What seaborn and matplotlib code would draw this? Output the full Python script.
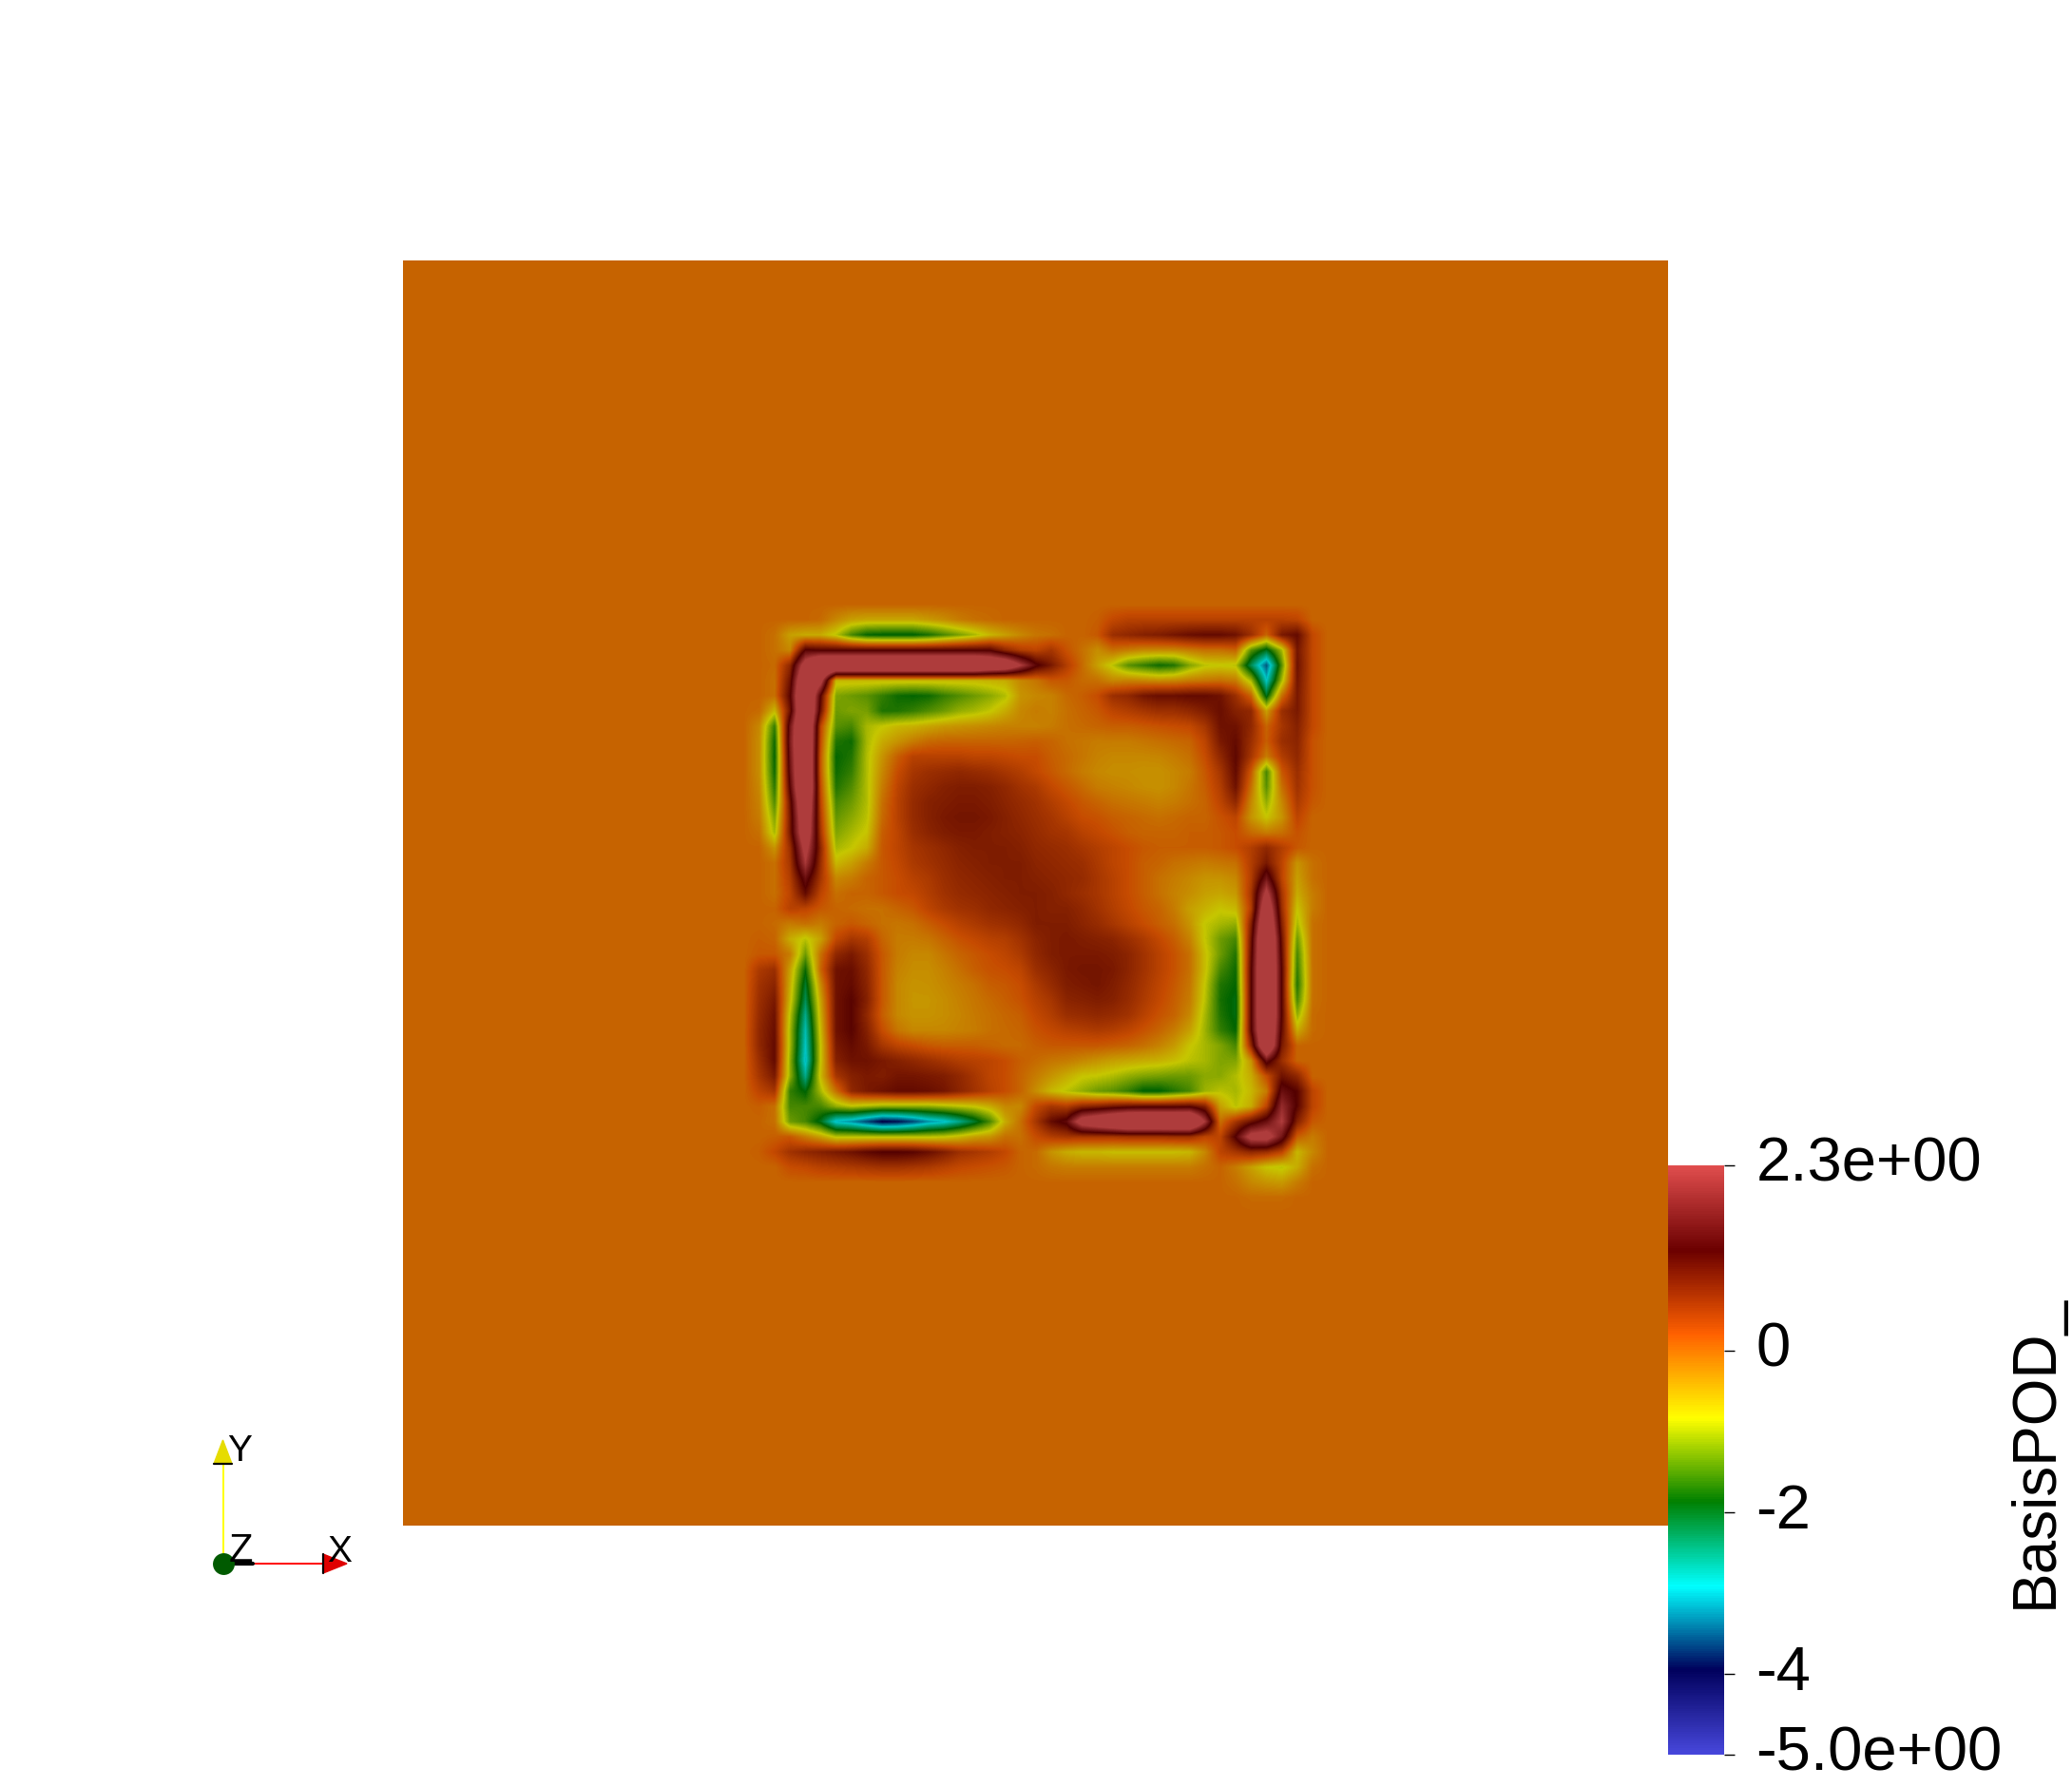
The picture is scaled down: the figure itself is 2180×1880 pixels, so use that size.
import numpy as np
import matplotlib
matplotlib.use("Agg")
import matplotlib.pyplot as plt
import seaborn as sns
from matplotlib.colors import LinearSegmentedColormap, Normalize
from matplotlib.cm import ScalarMappable
from matplotlib.transforms import ScaledTranslation

# colour table of the field
cmap_stops = [0.0, 0.143, 0.285, 0.429, 0.571, 0.714, 0.857, 1.0]
cmap_rgb = [(0.278, 0.278, 0.859), (0, 0, 0.361), (0, 1, 1), (0, 0.502, 0),
            (1, 1, 0), (1, 0.38, 0), (0.42, 0, 0), (0.878, 0.302, 0.302)]
surface_light = 0.78

vmin, vmax = -5.0, 2.3
tick_values = [2.3, 0, -2, -4, -5]
tick_labels = ["2.3e+00", "0", "-2", "-4", "-5.0e+00"]
bar_title = "BasisPOD_"

# field around the central ring, row by row (top to bottom)
basis_pod = [
    [0] * 37,
    [0, 0, 0, 0, -.05, -.3, -.5, -.55, -.55, -.55, -.55, -.45, -.35, -.2, -.1, -.05, 0, 0, 0, 0, 0, 0, .05, .25, .35, .35, .35, .35, .35, .35, .35, .35, .35, .35, .35, .3, 0],
    [0, -.1, -.5, -.6, -.6, -.9, -1.5, -1.85, -1.9, -1.9, -1.9, -1.75, -1.5, -1.25, -1.0, -.7, -.5, -.3, -.15, -.1, 0, 0, .1, .6, .7, .8, .85, .95, 1.05, 1.1, 1.1, 1.0, .6, 0, .9, 1.1, .25],
    [0, -.1, -.3, 1.3, 1.2, 1.2, 1.2, 1.2, 1.2, 1.2, 1.2, 1.2, 1.2, 1.2, 1.2, 1.2, .7, .4, .3, .5, .15, -.1, -.35, -.1, -.2, -.3, -.3, -.3, -.2, -.1, -.1, 0, -1.4, -2.0, -1.0, .95, .25],
    [0, -.05, .7, 2.8, 4, 4, 4, 4, 4, 4, 4, 4, 4, 4, 4, 3.6, 3.3, 2.3, 1.35, .9, .4, -.05, -.5, -.9, -1.4, -1.6, -1.8, -1.7, -1.2, -.9, -.85, -.9, -2.3, -3.5, -1.4, 1.0, .25],
    [0, -.1, 1.0, 3.6, 2.6, -.7, -.7, -.7, -.7, -.7, -.7, -.7, -.7, -.7, -.7, -.65, -.6, -.3, -.15, .1, .1, -.05, -.1, -.3, -.25, -.3, -.35, -.3, -.2, -.15, -.1, -.2, -1.0, -2.9, -1.0, .95, .25],
    [0, -.1, 1.2, 4, 1.2, -1.2, -1.3, -1.4, -1.6, -1.8, -1.85, -1.8, -1.6, -1.45, -1.3, -1.15, -.95, -.4, -.3, -.25, -.05, .05, .2, .6, .7, .95, 1.05, 1.05, 1.1, 1.1, 1.0, .6, 0, -2.0, -.1, .9, .25],
    [-.05, -.7, 1.0, 4, 1.0, -1.3, -1.2, -1.25, -1.7, -1.7, -1.6, -1.45, -1.3, -1.1, -1.0, -.85, -.6, -.3, -.2, -.25, -.1, 0, .1, .3, .4, .5, .6, .6, .7, .85, 1.05, .8, .7, -.5, .6, .9, .25],
    [-.3, -1.6, 1.6, 4, .3, -1.4, -1.5, -1.0, -.85, -.7, -.65, -.55, -.45, -.4, -.35, -.3, -.25, -.25, -.25, -.2, -.1, -.05, 0, .05, .05, .1, .15, .2, .25, .5, 1.0, 1.0, .7, 0, .5, .8, .25],
    [-.35, -1.8, 1.7, 4, .2, -1.7, -1.8, -1.0, -.6, -.4, -.2, -.05, 0, 0, 0, 0, 0, .02, .05, 0, -.1, -.15, -.2, -.2, -.2, -.15, -.1, -.05, 0, .3, .9, 1.1, .6, .05, .6, .75, .15],
    [-.35, -1.85, 1.6, 4, .1, -1.85, -1.7, -.95, -.4, .05, .35, .35, .35, .35, .3, .3, .25, .2, .2, .05, -.05, -.15, -.25, -.3, -.3, -.3, -.28, -.2, -.1, .2, .7, 1.15, .5, -.2, .4, .7, .15],
    [-.35, -1.8, 1.5, 4, .1, -1.8, -1.6, -.95, -.3, .2, .5, .6, .65, .7, .65, .6, .5, .4, .25, .1, -.05, -.2, -.3, -.35, -.35, -.38, -.38, -.3, -.2, .1, .5, 1.1, .1, -1.5, .1, .6, .15],
    [-.3, -1.65, 1.3, 4, .2, -1.7, -1.45, -.95, -.2, .3, .6, .7, .8, .85, .85, .8, .7, .55, .45, .25, .1, -.05, -.2, -.25, -.3, -.35, -.38, -.3, -.15, .05, .4, 1.0, -.1, -1.4, -.1, .55, .15],
    [-.25, -1.45, 1.0, 3.6, .3, -1.5, -1.3, -.95, -.1, .35, .65, .8, .85, .9, .9, .85, .75, .65, .55, .4, .25, .1, 0, -.1, -.15, -.2, -.25, -.2, -.1, 0, .3, .7, -.3, -1.1, -.3, .45, .1],
    [-.2, -1.2, .9, 3.3, .4, -1.35, -1.15, -.9, -.05, .35, .65, .8, .9, .95, .95, .9, .8, .7, .6, .5, .35, .2, .15, .05, 0, -.05, -.1, -.05, 0, 0, .15, .3, -.4, -.8, -.4, .3, 0],
    [-.1, -1.0, .9, 3.1, .5, -1.2, -1.0, -.8, .05, .3, .6, .75, .85, .9, .9, .85, .8, .75, .65, .55, .5, .35, .25, .15, .05, 0, 0, 0, .05, .05, .1, .2, -.05, -.2, -.1, .15, 0],
    [0, -.4, .6, 2.6, .7, -1.0, -.85, -.6, .1, .3, .5, .6, .7, .8, .85, .85, .85, .8, .7, .65, .6, .5, .4, .3, .2, .1, .05, .05, .05, .05, .1, .2, .4, .7, .4, .1, 0],
    [0, -.1, .5, 2.2, .6, -.7, -.5, -.2, .1, .25, .45, .55, .65, .75, .8, .85, .85, .85, .75, .7, .65, .6, .45, .3, .2, .05, 0, -.1, -.15, -.2, -.15, -.1, .4, .9, .3, -.4, -.1],
    [0, -.1, .4, 1.5, .5, -.3, -.2, 0, .1, .2, .35, .45, .6, .7, .75, .8, .85, .85, .8, .75, .7, .65, .5, .35, .2, .05, -.1, -.2, -.3, -.4, -.4, -.3, .4, 1.6, .3, -.5, -.1],
    [0, -.1, .3, 1.1, .3, -.1, 0, 0, .1, .2, .25, .4, .55, .65, .7, .75, .8, .85, .85, .8, .7, .6, .5, .35, .2, .05, -.1, -.25, -.35, -.5, -.55, -.45, .5, 2.5, .5, -.6, -.2],
    [0, 0, .35, .3, .1, 0, -.05, -.1, -.1, 0, .1, .3, .45, .55, .6, .7, .75, .8, .85, .8, .8, .7, .55, .4, .25, .1, 0, -.2, -.5, -.65, -.8, -.7, .4, 3.2, .6, -.8, -.2],
    [0, -.05, -.2, -.1, -.2, 0, .1, 0, -.1, -.15, -.1, .05, .2, .35, .45, .55, .6, .7, .85, .85, .85, .75, .65, .5, .35, .2, .05, -.1, -.4, -.85, -1.0, -1.1, .8, 3.6, .8, -1.0, -.1],
    [.05, 0, -.6, -.9, -.5, .25, .5, .4, 0, -.2, -.2, -.15, 0, .15, .25, .35, .4, .55, .75, .85, .9, .85, .8, .75, .6, .45, .25, .05, -.25, -.85, -1.3, -1.5, 1.0, 4, 1.0, -1.3, -.1],
    [.1, .1, -.2, -1.3, -.1, .7, .9, .6, .1, -.2, -.3, -.3, -.15, 0, .1, .2, .3, .45, .7, .85, .9, .9, .9, .85, .75, .55, .35, .15, -.1, -.75, -1.3, -1.7, 1.1, 4, 1.1, -1.5, -.1],
    [.45, .6, -.5, -1.8, 0, 1.0, 1.05, .7, .1, -.25, -.35, -.35, -.25, -.1, .05, .15, .2, .3, .6, .75, .9, .95, .95, .9, .75, .55, .35, .15, -.1, -.75, -1.5, -1.8, 1.2, 4, 1.2, -1.6, -.1],
    [.55, .75, -.6, -2.1, -.3, 1.0, 1.1, .75, .1, -.3, -.4, -.38, -.3, -.2, -.1, .05, .1, .2, .45, .65, .85, .9, .95, .85, .7, .5, .3, .1, -.15, -.85, -1.7, -1.85, 1.2, 4, 1.2, -1.7, -.1],
    [.6, .9, -.7, -2.3, -.5, 1.0, 1.2, .8, .1, -.3, -.42, -.42, -.35, -.25, -.15, -.05, .05, .15, .35, .5, .75, .8, .85, .8, .65, .45, .25, .05, -.2, -.9, -1.75, -1.95, 1.2, 4, 1.2, -1.5, -.1],
    [.65, 1.0, -.9, -2.6, -.6, 1.0, 1.2, .7, .05, -.3, -.4, -.4, -.35, -.28, -.18, -.1, -.02, .05, .25, .4, .6, .65, .7, .65, .55, .35, .15, 0, -.3, -1.0, -1.7, -1.95, 1.2, 4, 1.2, -1.1, -.05],
    [.7, 1.05, -1.0, -2.8, -.7, 1.0, 1.2, .8, .2, -.15, -.3, -.3, -.3, -.25, -.2, -.1, -.05, 0, .15, .25, .35, .4, .45, .4, .3, .15, 0, -.2, -.5, -1.05, -1.6, -1.85, 1.2, 3.8, 1.1, -.6, -.05],
    [.7, 1.1, -1.0, -2.9, -.8, .9, 1.1, .9, .5, .3, .2, .1, .05, .05, .05, 0, -.05, -.05, .05, .1, .1, .1, .1, .05, 0, -.1, -.25, -.45, -.8, -1.0, -1.2, -1.5, .7, 3.6, .9, 0, 0],
    [.6, 1.1, -1.1, -3.0, -.8, .8, 1.0, 1.0, .9, .8, .7, .6, .5, .4, .35, .3, .2, .05, -.05, -.15, -.2, -.3, -.4, -.5, -.55, -.6, -.65, -.75, -.9, -1.0, -1.2, -1.2, -.4, 1.5, .6, 0, 0],
    [.5, .9, -1.1, -2.6, -.7, .5, .8, .9, .85, .95, .95, .9, .85, .7, .5, .3, .2, 0, -.2, -.4, -.6, -.8, -.85, -.95, -1.1, -1.2, -1.25, -1.3, -1.3, -1.15, -1.15, -.95, -.6, .2, 1.0, .7, 0],
    [.3, .5, -1.6, -1.9, -1.0, -.1, .7, .9, 1.0, 1.1, 1.1, 1.05, .95, .75, .55, .35, .2, 0, -.35, -.7, -.9, -1.1, -1.3, -1.4, -1.6, -1.9, -1.9, -1.7, -1.5, -1.05, -.9, -1.0, -.7, -.2, 1.5, 1.2, .3],
    [.05, -.1, -1.5, -1.5, -1.5, -1.1, -.9, -1.0, -1.1, -1.1, -1.1, -1.1, -1.0, -.9, -.8, -.6, -.3, -.3, .25, .5, .4, .7, .8, .95, 1.05, 1.1, 1.1, 1.1, 1.15, .8, -.5, -.9, -.6, .3, 2.0, 1.2, .3],
    [0, -.1, -1.3, -1.5, -2.0, -3.0, -3.2, -3.6, -4.0, -3.9, -3.6, -3.2, -3.0, -2.6, -2.1, -1.5, -.6, -.1, .5, 1.1, 1.4, 2.8, 3.2, 3.6, 4, 4, 4, 4, 4, 2.2, -.1, .5, 1.0, 1.5, 2.3, .8, .1],
    [0, .05, .1, -.2, -.5, -.9, -.9, -.9, -.9, -.9, -.9, -.9, -.85, -.7, -.5, -.4, -.1, -.1, .2, .4, .5, .5, .5, .5, .55, .55, .55, .6, .6, .3, .3, 1.3, 2.6, 2.7, 1.6, .05, -.2],
    [.05, .25, .55, .7, .8, .9, 1.0, 1.15, 1.25, 1.25, 1.2, 1.05, .85, .6, .5, .4, .25, 0, -.05, -.4, -.6, -.7, -.7, -.75, -.75, -.75, -.75, -.75, -.7, -.3, .3, .5, .7, .6, .3, -.7, -.3],
    [0, 0, .2, .25, .35, .4, .45, .5, .55, .55, .5, .45, .35, .25, .2, .15, .1, 0, -.05, -.15, -.2, -.2, -.2, -.2, -.2, -.2, -.2, -.2, -.2, -.1, 0, -.2, -.5, -.8, -.9, -.6, -.1],
    [0] * 31 + [-.1, -.3, -.4, -.45, -.2, 0],
    [0] * 32 + [-.05, -.05, -.05, 0, 0],
]

sns.set_theme(style="white")
plt.rcParams['font.family'] = ['Liberation Sans', 'DejaVu Sans']

W, H = 2180, 1880
fig = plt.figure(figsize=(W / 100, H / 100), dpi=100, facecolor='white')


def px_axes(x0, y0, x1, y1):
    return fig.add_axes([x0 / W, 1 - y1 / H, (x1 - x0) / W, (y1 - y0) / H])


# the surface is lit, so it comes out darker than the colour bar
cmap_bar = LinearSegmentedColormap.from_list(
    'rainbow_desat', list(zip(cmap_stops, cmap_rgb)), N=256)
cmap_surface = LinearSegmentedColormap.from_list(
    'rainbow_lit',
    list(zip(cmap_stops, [tuple(c * surface_light for c in rgb) for rgb in cmap_rgb])),
    N=256)

# --- field ---
field = np.pad(np.array(basis_pod, dtype=float), ((23, 22), (24, 24)))
ax = px_axes(424, 274, 1755, 1605)
sns.heatmap(field, ax=ax, cmap=cmap_surface, vmin=vmin, vmax=vmax, cbar=False,
            xticklabels=False, yticklabels=False)
# scalars are blended between nodes and then coloured, as on the original surface
ax.imshow(field, cmap=cmap_surface, vmin=vmin, vmax=vmax, aspect='auto', zorder=3,
          interpolation='bilinear', interpolation_stage='data',
          extent=(0, field.shape[1], field.shape[0], 0))
ax.set_xlim(1.31, 83.62)
ax.set_ylim(84.06, 0.875)
ax.axis('off')

# --- colour bar ---
cax = px_axes(1755, 1226, 1814, 1846)
cbar = fig.colorbar(ScalarMappable(Normalize(vmin, vmax), cmap_bar), cax=cax)
cbar.outline.set_visible(False)
cbar.set_ticks(tick_values)
cbar.set_ticklabels(tick_labels)
cax.tick_params(axis='y', right=True, length=8, width=1, color='black',
                pad=16, labelsize=47, labelcolor='black')
for lab in cax.get_yticklabels():
    lab.set_transform(lab.get_transform() + ScaledTranslation(0, 0.07, fig.dpi_scale_trans))
fig.text(2172 / W, 1 - 1527 / H, bar_title, rotation=90, ha='right', va='center',
         fontsize=46, color='black')

# --- axes triad ---
tri = fig.add_axes([0, 0, 1, 1], facecolor='none')
tri.set_xlim(0, W)
tri.set_ylim(H, 0)
tri.axis('off')
tri.plot([234.5, 234.5], [1645, 1540], color='#ffff00', lw=1.4)
tri.plot([234.5, 339], [1645, 1645], color='#ff0000', lw=1.4)
tri.fill([225, 244, 234.5], [1540, 1540, 1515], color='#e6dc00')
tri.plot([225, 244], [1540, 1540], color='black', lw=1.6)
tri.fill([340, 340, 365], [1635, 1655, 1645], color='#e00000')
tri.plot([340, 340], [1635, 1655], color='black', lw=1.6)
tri.plot([246, 266], [1645, 1645], color='black', lw=3)
tri.plot([234.5], [1645], 'o', color='#005a00', ms=16.5, mew=0)
tri.text(252, 1527, 'Y', fontsize=28, ha='center', va='center', color='black')
tri.text(253, 1632, 'Z', fontsize=30, ha='center', va='center', color='black')
tri.text(357, 1633, 'X', fontsize=28, ha='center', va='center', color='black')

fig.savefig('out.png', dpi=100, facecolor='white')
